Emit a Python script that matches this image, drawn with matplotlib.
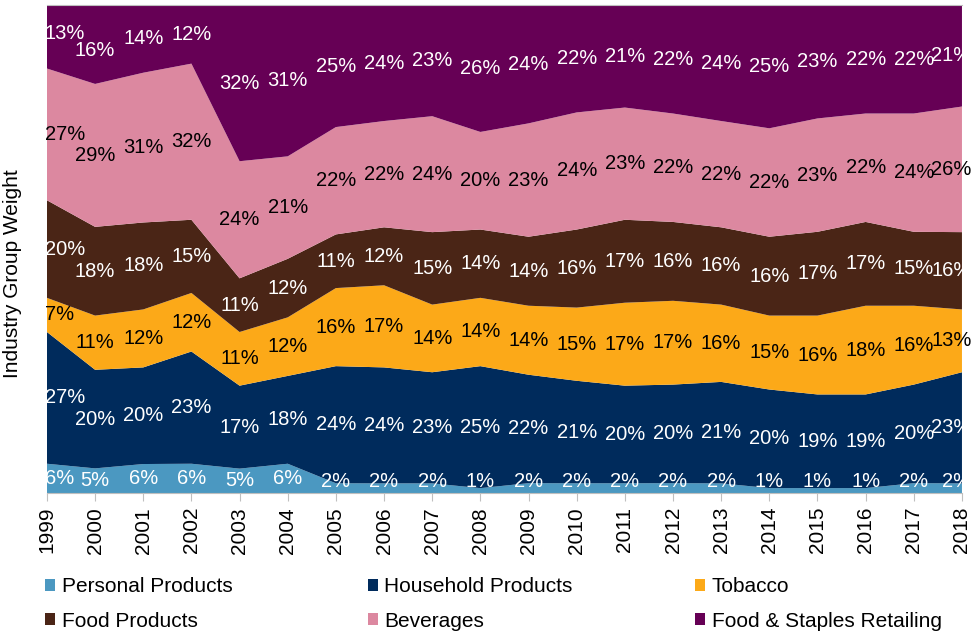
import matplotlib.pyplot as plt
import numpy as np

plt.rcParams['font.family'] = ['Liberation Sans', 'DejaVu Sans']

years = list(range(1999, 2019))
personal = [6, 5, 6, 6, 5, 6, 2, 2, 2, 1, 2, 2, 2, 2, 2, 1, 1, 1, 2, 2]
household = [27, 20, 20, 23, 17, 18, 24, 24, 23, 25, 22, 21, 20, 20, 21, 20, 19, 19, 20, 23]
tobacco = [7, 11, 12, 12, 11, 12, 16, 17, 14, 14, 14, 15, 17, 17, 16, 15, 16, 18, 16, 13]
food_products = [20, 18, 18, 15, 11, 12, 11, 12, 15, 14, 14, 16, 17, 16, 16, 16, 17, 17, 15, 16]
beverages = [27, 29, 31, 32, 24, 21, 22, 22, 24, 20, 23, 24, 23, 22, 22, 22, 23, 22, 24, 26]
staples = [13, 16, 14, 12, 32, 31, 25, 24, 23, 26, 24, 22, 21, 22, 24, 25, 23, 22, 22, 21]

names = ["Personal Products", "Household Products", "Tobacco",
         "Food Products", "Beverages", "Food & Staples Retailing"]
colors = ["#4B98C1", "#002B5C", "#FCA918", "#4A2516", "#DC88A0", "#660055"]
text_colors = ["white", "white", "black", "white", "black", "white"]

series = np.array([personal, household, tobacco, food_products, beverages, staples], dtype=float)
shares = series / series.sum(axis=0)
x = np.arange(len(years))

fig = plt.figure(figsize=(9.78, 6.35), dpi=100)
ax = fig.add_axes([0.048, 0.2236, 0.9356, 0.7684])

polys = ax.stackplot(x, shares, colors=colors, labels=names)

# data labels in the middle of each band (thin bottom band lifted a little)
bottom = np.zeros(len(years))
for i in range(len(names)):
    mid = bottom + shares[i] / 2
    if i == 0:
        mid = np.maximum(mid, 0.024)
    for j in range(len(years)):
        ha = 'center'
        xx = x[j]
        yy = mid[j]
        if j == 0:
            ha = 'left'
            xx = x[j] - 0.05
        elif j == len(years) - 1:
            ha = 'right'
            xx = x[j] + 0.2
        # first two top labels sit a bit apart in the original
        if i == 5 and j == 0:
            yy += 0.006
        if i == 5 and j == 1:
            yy -= 0.012
        ax.text(xx, yy, f"{int(series[i, j])}%", ha=ha, va='center',
                fontsize=14.5, color=text_colors[i])
    bottom += shares[i]

ax.set_xlim(0, len(years) - 1)
ax.set_ylim(0, 1)
ax.set_xticks(x)
ax.set_xticklabels([str(y) for y in years], rotation=90, fontsize=15)
ax.set_yticks([])
ax.tick_params(axis='x', length=6, color='#BFBFBF', pad=4)
for side in ['left', 'right']:
    ax.spines[side].set_visible(False)
ax.spines['top'].set_color('#BFBFBF')
ax.spines['bottom'].set_color('#BFBFBF')
ax.set_ylabel("Industry Group Weight", fontsize=15)
ax.yaxis.set_label_coords(-0.027, 0.45)

# legend: three columns placed by hand, two rows each
col_x = [0.046, 0.376, 0.7106]
for c in range(3):
    idx = [c, c + 3]
    fig.legend([polys[k] for k in idx], [names[k] for k in idx],
               loc='center left', bbox_to_anchor=(col_x[c], 0.0488),
               frameon=False, fontsize=15, handlelength=0.5, handleheight=0.5,
               handletextpad=0.3, labelspacing=0.75, borderpad=0, borderaxespad=0)

fig.savefig("out.png", dpi=100)
